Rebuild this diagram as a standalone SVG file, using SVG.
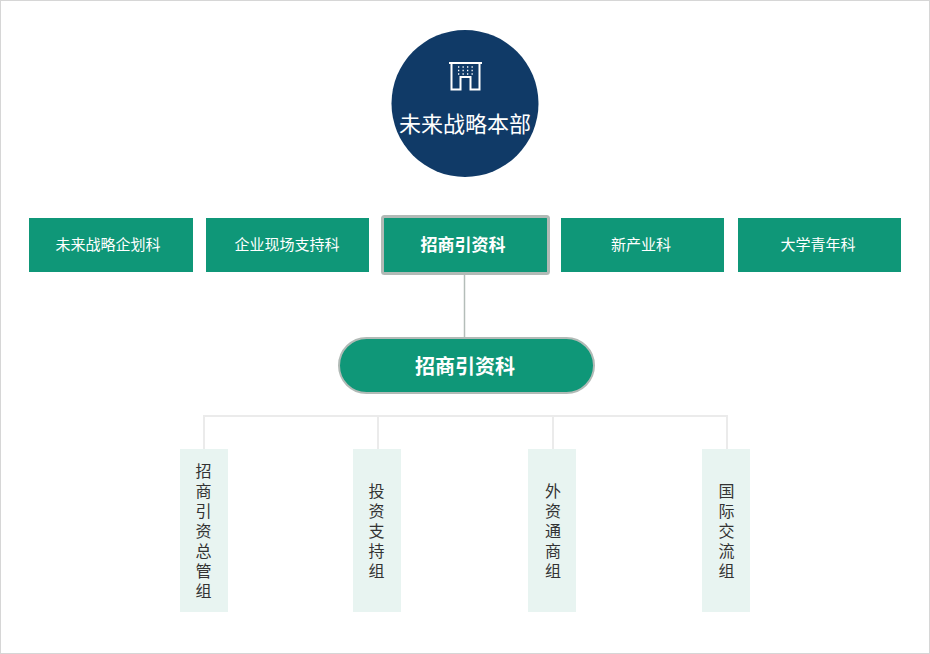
<svg xmlns="http://www.w3.org/2000/svg" width="930" height="654" viewBox="0 0 930 654">
<style>
text{font-family:"Noto Sans CJK SC","Noto Sans CJK JP",sans-serif;text-anchor:middle}
.box{fill:#0f9778}
.t1{font-size:15px;fill:#fff}
.t2{font-size:17px;font-weight:700;fill:#fff}
.leaf{fill:#e8f4f1}
.lt{font-size:16px;fill:#333;writing-mode:vertical-rl;text-orientation:upright;letter-spacing:4px}
.c1{fill:none;stroke:#ebebeb;stroke-width:2}
.ic{fill:none;stroke:#fff;stroke-width:2}
</style>
<rect x="0.5" y="0.5" width="929" height="653" fill="#fff" stroke="#d6d6d6"/>
<g id="connectors">
<path d="M464.500 274V338" fill="none" stroke="#b4bdb9" stroke-width="1.500"/>
<path class="c1" d="M204 449V416H727V449M378 416V449M553 416V449"/>
</g>
<g id="hq">
<circle cx="465" cy="103.500" r="73.500" fill="#103a67"/>
<path class="ic" d="M449 63H482M451.500 63V89.500H460.500V77H470.500V89.500H479.500V63"/>
<path stroke="#fff" stroke-width="1.300" stroke-dasharray="1.300 3.200" fill="none" d="M458 67H474M458 70.500H474M458 74H474"/>
<text x="465" y="132" font-size="22px" fill="#fff">未来战略本部</text>
</g>
<g id="dept1"><rect class="box" x="29" y="218" width="164" height="54"/><text class="t1" x="108" y="250">未来战略企划科</text></g>
<g id="dept2"><rect class="box" x="206" y="218" width="163" height="54"/><text class="t1" x="287" y="250">企业现场支持科</text></g>
<g id="dept3"><rect class="box" x="382.500" y="216.500" width="166" height="57" rx="2" stroke="#b1bab6" stroke-width="3"/><text class="t2" x="463" y="251">招商引资科</text></g>
<g id="dept4"><rect class="box" x="561" y="218" width="163" height="54"/><text class="t1" x="641" y="250">新产业科</text></g>
<g id="dept5"><rect class="box" x="738" y="218" width="163" height="54"/><text class="t1" x="818" y="250">大学青年科</text></g>
<g id="sub"><rect class="box" x="339" y="338" width="255" height="55" rx="27.500" stroke="#b1bab6" stroke-width="2"/><text x="465" y="374" font-size="20px" font-weight="700" fill="#fff">招商引资科</text></g>
<g id="g1"><rect class="leaf" x="180" y="449" width="48" height="163"/><text class="lt" x="203.500" y="533">招商引资总管组</text></g>
<g id="g2"><rect class="leaf" x="353" y="449" width="48" height="163"/><text class="lt" x="376.500" y="533">投资支持组</text></g>
<g id="g3"><rect class="leaf" x="528" y="449" width="48" height="163"/><text class="lt" x="553" y="533">外资通商组</text></g>
<g id="g4"><rect class="leaf" x="702" y="449" width="48" height="163"/><text class="lt" x="726.500" y="533">国际交流组</text></g>
</svg>
